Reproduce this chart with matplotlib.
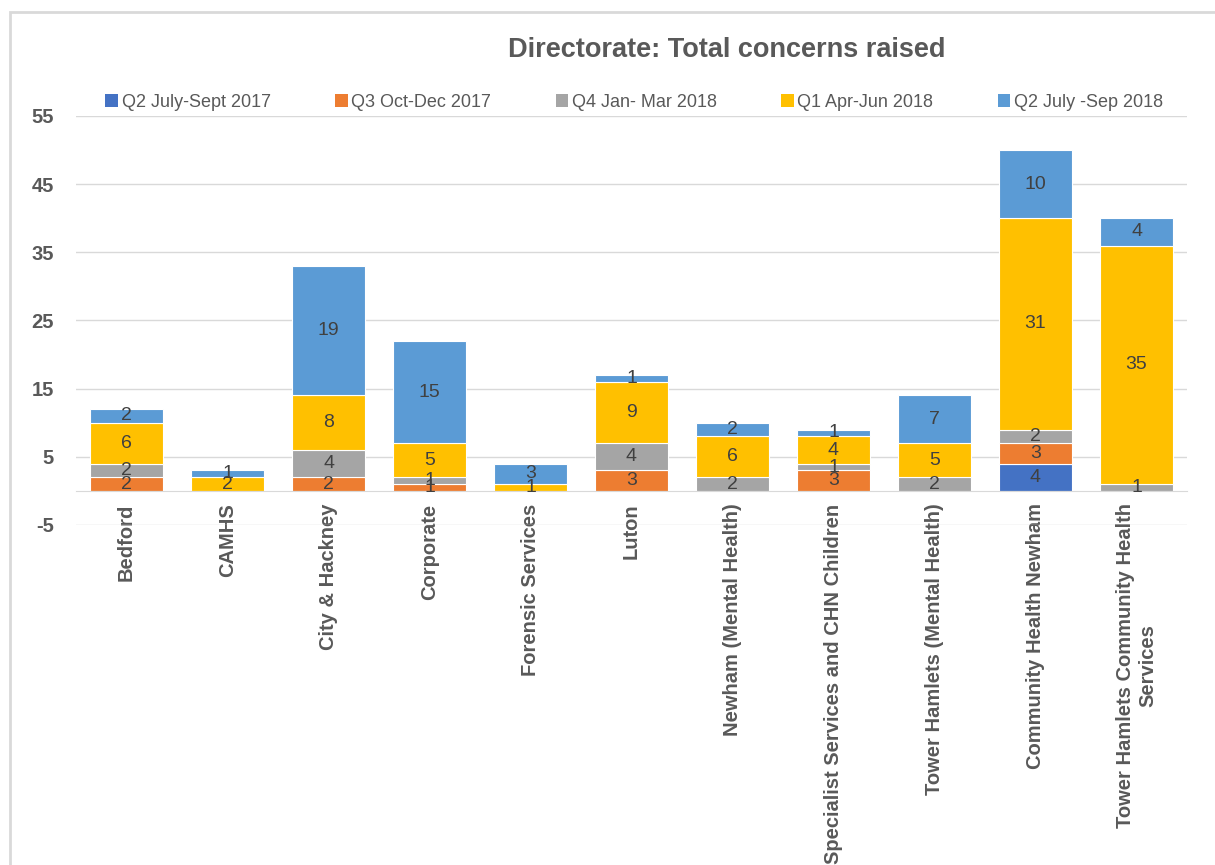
import numpy as np
import matplotlib.pyplot as plt
from matplotlib.patches import Patch, Rectangle

plt.rcParams['font.family'] = ['Liberation Sans', 'DejaVu Sans']
plt.rcParams['axes.unicode_minus'] = False

directorates = ['Bedford', 'CAMHS', 'City & Hackney', 'Corporate', 'Forensic Services',
                'Luton', 'Newham (Mental Health)', 'Specialist Services and CHN Children',
                'Tower Hamlets (Mental Health)', 'Community Health Newham',
                'Tower Hamlets Community Health\nServices']
quarters = ['Q2 July-Sept 2017', 'Q3 Oct-Dec 2017', 'Q4 Jan- Mar 2018',
            'Q1 Apr-Jun 2018', 'Q2 July -Sep 2018']
q2_2017 = [0, 0, 0, 0, 0, 0, 0, 0, 0, 4, 0]
q3_2017 = [2, 0, 2, 1, 0, 3, 0, 3, 0, 3, 0]
q4_2018 = [2, 0, 4, 1, 0, 4, 2, 1, 2, 2, 1]
q1_2018 = [6, 2, 8, 5, 1, 9, 6, 4, 5, 31, 35]
q2_2018 = [2, 1, 19, 15, 3, 1, 2, 1, 7, 10, 4]
colors = ['#4472C4', '#ED7D31', '#A5A5A5', '#FFC000', '#5B9BD5']

series = [q2_2017, q3_2017, q4_2018, q1_2018, q2_2018]

W, H = 1215, 865
fig = plt.figure(figsize=(W / 100, H / 100), dpi=100)
ax = fig.add_axes([76 / W, 1 - 525 / H, (1187 - 76) / W, (525 - 116) / H])

# chart frame (only left and top edges are inside the canvas)
fig.patches.append(Rectangle((10 / W, -0.1), 1.2, (H - 12) / H + 0.1,
                             transform=fig.transFigure, fill=False,
                             edgecolor='#D9D9D9', linewidth=2))

x = np.arange(len(directorates))
bottom = np.zeros(len(directorates))
for vals, col, name in zip(series, colors, quarters):
    vals = np.array(vals, dtype=float)
    bars = ax.bar(x, vals, width=0.73, bottom=bottom, color=col,
                  edgecolor='white', linewidth=0.8, label=name, zorder=2)
    labels = [str(int(v)) if v > 0 else '' for v in vals]
    ax.bar_label(bars, labels=labels, label_type='center', fontsize=14,
                 color='#404040', zorder=3)
    bottom += vals

ax.set_ylim(-5, 55)
ax.set_xlim(-0.5, len(directorates) - 0.5)
ax.set_yticks(np.arange(-5, 56, 10))
ax.grid(axis='y', color='#D9D9D9', linewidth=1, zorder=0)
ax.tick_params(axis='y', length=0, pad=16, labelsize=14.5, labelcolor='#595959')
for t in ax.get_yticklabels():
    t.set_fontweight('bold')

for s in ['top', 'right', 'left']:
    ax.spines[s].set_visible(False)
ax.spines['bottom'].set_position(('data', 0))
ax.spines['bottom'].set_color('#D9D9D9')
ax.set_xticks(x)
ax.set_xticklabels(directorates, rotation=90, fontsize=14.5, fontweight='bold',
                   color='#595959', va='top', ha='center', multialignment='center')
ax.tick_params(axis='x', length=0, pad=9)

handles = [Patch(facecolor=c, label=q) for c, q in zip(colors, quarters)]
ax.legend(handles=handles, loc='lower left', bbox_to_anchor=(0.02, 0.995, 0.965, 0.1),
          ncol=5, mode='expand', frameon=False, fontsize=13, labelcolor='#595959',
          handlelength=0.7, handleheight=0.7, handletextpad=0.2, borderaxespad=0)

fig.text(727 / W, 1 - 50 / H, 'Directorate: Total concerns raised', fontsize=19.5,
         fontweight='bold', color='#595959', ha='center', va='center')

fig.savefig('out.png', dpi=100)
